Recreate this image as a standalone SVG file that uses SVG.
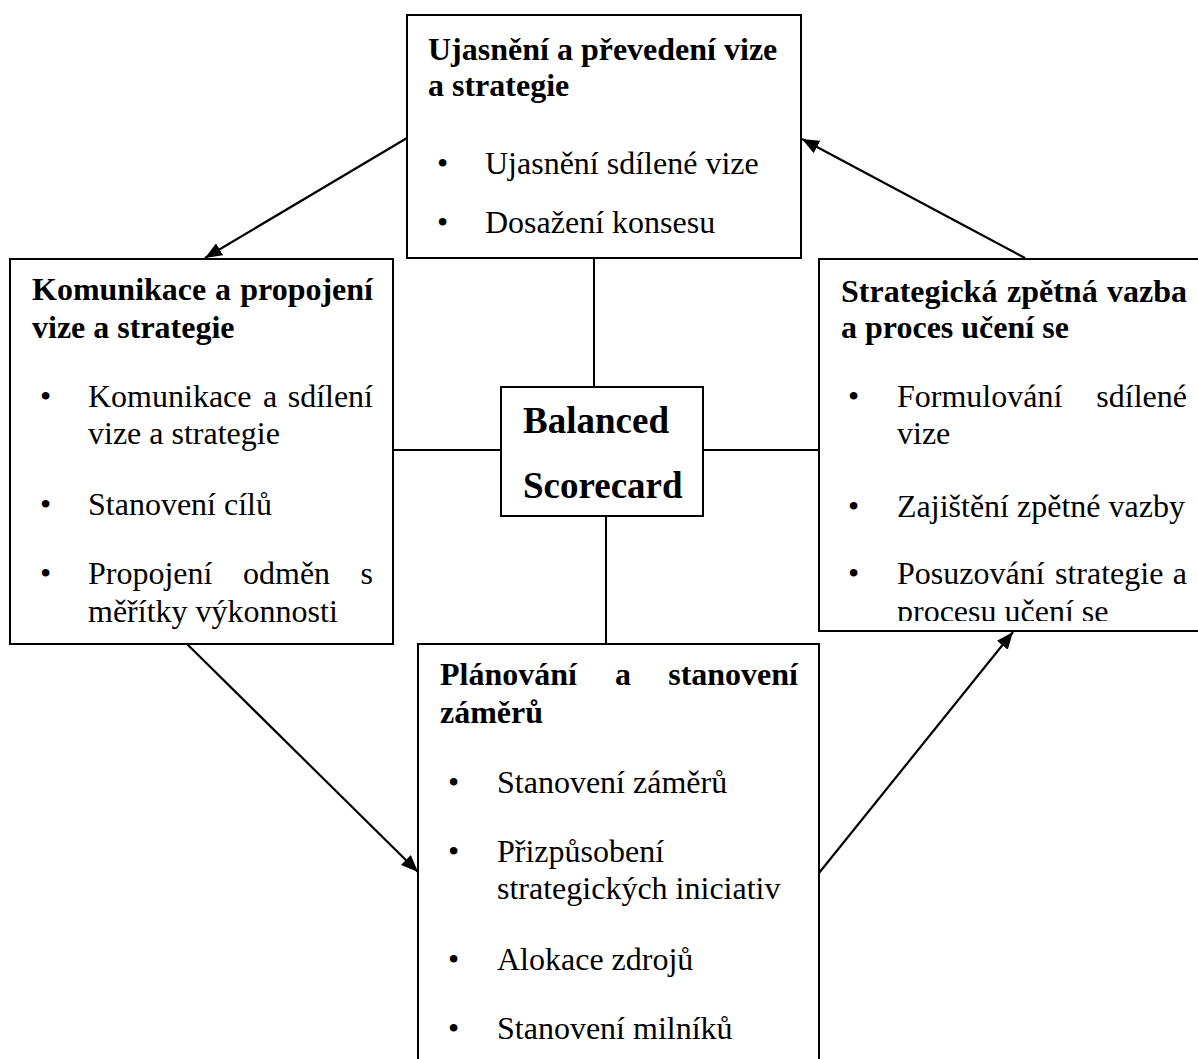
<svg xmlns="http://www.w3.org/2000/svg" width="1198" height="1059" viewBox="0 0 1198 1059">
  <style>
    .box { fill: #ffffff; stroke: #000000; stroke-width: 2; }
    .link { stroke: #000000; stroke-width: 2; fill: none; }
    .arrow { stroke: #000000; stroke-width: 2.2; fill: none; marker-end: url(#head); }
    text { font-family: "Liberation Serif", "Times New Roman", serif; fill: #000000; }
    .title { font-size: 32px; font-weight: bold; }
    .item { font-size: 32px; }
    .center { font-size: 37px; font-weight: bold; }
  </style>
  <defs>
    <marker id="head" markerUnits="userSpaceOnUse" markerWidth="18" markerHeight="14" refX="17" refY="7" orient="auto">
      <path d="M0,0 L17,7 L0,14 z" fill="#000000"/>
    </marker>
    <clipPath id="feedbackClip">
      <rect x="819" y="259" width="390" height="362"/>
    </clipPath>
  </defs>

  <rect width="1198" height="1059" fill="#ffffff"/>

  <!-- connectors -->
  <g id="connectors">
    <line class="link" x1="594" y1="258" x2="594" y2="387"/>
    <line class="link" x1="606" y1="516" x2="606" y2="644"/>
    <line class="link" x1="393" y1="450" x2="501" y2="450"/>
    <line class="link" x1="703" y1="450" x2="819" y2="450"/>
    <line class="arrow" x1="407" y1="138" x2="205" y2="258"/>
    <line class="arrow" x1="1025" y1="258" x2="802" y2="139"/>
    <line class="arrow" x1="187" y1="644" x2="418" y2="872"/>
    <line class="arrow" x1="819" y1="873" x2="1013" y2="632"/>
  </g>

  <!-- top: vision and strategy -->
  <g id="vision">
    <rect class="box" x="407" y="15" width="394" height="243"/>
    <text class="title" x="428" y="60">Ujasnění a převedení vize</text>
    <text class="title" x="428" y="96">a strategie</text>
    <text class="item" x="437" y="174">•</text>
    <text class="item" x="485" y="174">Ujasnění sdílené vize</text>
    <text class="item" x="437" y="233">•</text>
    <text class="item" x="485" y="233">Dosažení konsesu</text>
  </g>

  <!-- left: communication -->
  <g id="communication">
    <rect class="box" x="10" y="259" width="383" height="385"/>
    <text class="title" y="300"><tspan x="32">Komunikace</tspan><tspan x="215">a</tspan><tspan x="373" text-anchor="end">propojení</tspan></text>
    <text class="title" x="32" y="338">vize a strategie</text>
    <text class="item" x="40" y="407">•</text>
    <text class="item" y="407"><tspan x="88">Komunikace</tspan><tspan x="263">a</tspan><tspan x="373" text-anchor="end">sdílení</tspan></text>
    <text class="item" x="88" y="444">vize a strategie</text>
    <text class="item" x="40" y="515">•</text>
    <text class="item" x="88" y="515">Stanovení cílů</text>
    <text class="item" x="40" y="584">•</text>
    <text class="item" y="584"><tspan x="88">Propojení</tspan><tspan x="243">odměn</tspan><tspan x="373" text-anchor="end">s</tspan></text>
    <text class="item" x="88" y="622">měřítky výkonnosti</text>
  </g>

  <!-- right: feedback and learning -->
  <g id="feedback">
    <rect class="box" x="819" y="259" width="395" height="372"/>
    <g clip-path="url(#feedbackClip)">
      <text class="title" y="302"><tspan x="841">Strategická</tspan><tspan x="1007">zpětná</tspan><tspan x="1187" text-anchor="end">vazba</tspan></text>
      <text class="title" x="841" y="338">a proces učení se</text>
      <text class="item" x="848" y="407">•</text>
      <text class="item" y="407"><tspan x="897">Formulování</tspan><tspan x="1187" text-anchor="end">sdílené</tspan></text>
      <text class="item" x="897" y="444">vize</text>
      <text class="item" x="848" y="517">•</text>
      <text class="item" x="897" y="517">Zajištění zpětné vazby</text>
      <text class="item" x="848" y="584">•</text>
      <text class="item" y="584"><tspan x="897">Posuzování</tspan><tspan x="1055">strategie</tspan><tspan x="1187" text-anchor="end">a</tspan></text>
      <text class="item" x="897" y="622">procesu učení se</text>
    </g>
  </g>

  <!-- bottom: planning -->
  <g id="planning">
    <rect class="box" x="418" y="644" width="401" height="430"/>
    <text class="title" y="685"><tspan x="440">Plánování</tspan><tspan x="615">a</tspan><tspan x="798" text-anchor="end">stanovení</tspan></text>
    <text class="title" x="440" y="723">záměrů</text>
    <text class="item" x="448" y="793">•</text>
    <text class="item" x="497" y="793">Stanovení záměrů</text>
    <text class="item" x="448" y="862">•</text>
    <text class="item" x="497" y="862">Přizpůsobení</text>
    <text class="item" x="497" y="899">strategických iniciativ</text>
    <text class="item" x="448" y="970">•</text>
    <text class="item" x="497" y="970">Alokace zdrojů</text>
    <text class="item" x="448" y="1039">•</text>
    <text class="item" x="497" y="1039">Stanovení milníků</text>
  </g>

  <!-- centre -->
  <g id="scorecard">
    <rect class="box" x="501" y="387" width="202" height="129"/>
    <text class="center" x="523" y="433">Balanced</text>
    <text class="center" x="523" y="498">Scorecard</text>
  </g>
</svg>
